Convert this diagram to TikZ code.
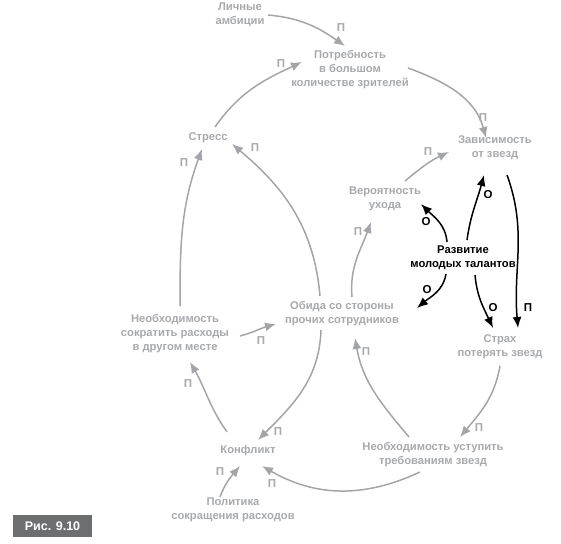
\documentclass[tikz,border=0pt]{standalone}
\usepackage{fontspec}
\setmainfont{Liberation Sans}
\usetikzlibrary{arrows.meta}
\definecolor{gtext}{HTML}{A7A9AC}
\definecolor{garrow}{HTML}{A3A5A8}
\definecolor{figbox}{HTML}{6D6E70}
\tikzset{
  lbl/.style={text=gtext, font=\bfseries\fontsize{11.2}{14}\selectfont, align=center, inner sep=1pt},
  blbl/.style={text=black, font=\bfseries\fontsize{11.2}{14}\selectfont, align=center, inner sep=1pt},
  garr/.style={draw=garrow, line width=1.5pt, -{Latex[length=11pt,width=9pt]}},
  barr/.style={draw=black, line width=1.5pt, -{Latex[length=11pt,width=9pt]}},
  pl/.style={text=gtext, font=\bfseries\fontsize{11.5}{12}\selectfont, inner sep=0pt},
  ol/.style={text=black, font=\bfseries\fontsize{11.5}{12}\selectfont, inner sep=0pt},
}
\begin{document}
\begin{tikzpicture}[x=1pt,y=-1pt]
\useasboundingbox (0,0) rectangle (561,543);
% nodes
\node[lbl] (lich) at (240,15) {Личные\\амбиции};
\node[lbl] (potr) at (350,70) {Потребность\\в большом\\количестве зрителей};
\node[lbl] (zav) at (495,148) {Зависимость\\от звезд};
\node[lbl] (stress) at (208,138) {Стресс};
\node[lbl] (ver) at (385,199) {Вероятность\\ухода};
\node[blbl] (razv) at (463,258) {Развитие\\молодых талантов};
\node[lbl] (obida) at (342,314) {Обида со стороны\\прочих сотрудников};
\node[lbl] (nsokr) at (175,334) {Необходимость\\сократить расходы\\в другом месте};
\node[lbl] (strah) at (500,347) {Страх\\потерять звезд};
\node[lbl] (konf) at (248,451) {Конфликт};
\node[lbl] (nust) at (433,455) {Необходимость уступить\\требованиям звезд};
\node[lbl] (polit) at (233,510) {Политика\\сокращения расходов};
\node[fill=figbox, text=white, font=\bfseries\fontsize{12.5}{13}\selectfont, minimum width=79pt, minimum height=22pt, inner sep=0pt] (fig) at (52.5,526) {Рис. 9.10};
% connectors (gray)
\draw[garr] ([shift={(28,0)}]lich.center) to[out=-5,in=145] ([shift={(-5,-24)}]potr.center);
\draw[garr] ([shift={(7,-11)}]stress.center) to[out=55,in=205] ([shift={(-48,-8)}]potr.center);
\draw[garr] ([shift={(58,-2)}]potr.center) to[out=-20,in=105] ([shift={(-9,-10)}]zav.center);
\draw[garr] ([shift={(20,-18)}]ver.center) to[out=40,in=205] ([shift={(-46,4)}]zav.center);
\draw[garr] ([shift={(10,-17)}]obida.center) to[out=95,in=250] ([shift={(-14,23)}]ver.center);
\draw[garr] ([shift={(-22,-18)}]obida.center) to[out=95,in=-40] ([shift={(24,6)}]stress.center);
\draw[garr] ([shift={(5,-28)}]nsokr.center) to[out=90,in=-110] ([shift={(-6,11)}]stress.center);
\draw[garr] ([shift={(65,2)}]nsokr.center) to[out=15,in=195] ([shift={(-66,10)}]obida.center);
\draw[garr] ([shift={(-21,-19)}]konf.center) to[out=125,in=-60] ([shift={(15,28)}]nsokr.center);
\draw[garr] ([shift={(-21,16)}]obida.center) to[out=-92,in=45] ([shift={(10,-11)}]konf.center);
\draw[garr] ([shift={(0,19)}]strah.center) to[out=-100,in=50] ([shift={(27,-18)}]nust.center);
\draw[garr] ([shift={(-24,-18)}]nust.center) to[out=130,in=-80] ([shift={(13,24)}]obida.center);
\draw[garr] ([shift={(-13,17)}]nust.center) to[out=-155,in=-30] ([shift={(14,15)}]konf.center);
\draw[garr] ([shift={(-13,-13)}]polit.center) to[out=70,in=230] ([shift={(-8,15)}]konf.center);
% connectors (black)
\draw[barr] ([shift={(-16,-16)}]razv.center) to[out=95,in=-45] ([shift={(36,5)}]ver.center);
\draw[barr] ([shift={(4,-18)}]razv.center) to[out=82,in=-105] ([shift={(-11,27)}]zav.center);
\draw[barr] ([shift={(12,27)}]zav.center) to[out=-70,in=95] ([shift={(18,-19)}]strah.center);
\draw[barr] ([shift={(12,17)}]razv.center) to[out=-85,in=115] ([shift={(-7,-19)}]strah.center);
\draw[barr] ([shift={(-17,16)}]razv.center) to[out=-100,in=40] ([shift={(75,-6)}]obida.center);
% polarity labels
\node[pl] (p1) at (341,28) {П};
\node[pl] (p2) at (281,64) {П};
\node[pl] (p3) at (483,118) {П};
\node[pl] (p4) at (428,152) {П};
\node[pl] (p5) at (358,232) {П};
\node[pl] (p6) at (255,148) {П};
\node[pl] (p7) at (184,163) {П};
\node[pl] (p8) at (261,341) {П};
\node[pl] (p9) at (188,384) {П};
\node[pl] (p10) at (278,432) {П};
\node[pl] (p11) at (479,428) {П};
\node[pl] (p12) at (366,352) {П};
\node[pl] (p13) at (272,484) {П};
\node[pl] (p14) at (220,472) {П};
\node[ol] (o1) at (426,222) {О};
\node[ol] (o2) at (488,195) {О};
\node[ol] (p15) at (528,308) {П};
\node[ol] (o3) at (493,308) {О};
\node[ol] (o4) at (427,290) {О};
\end{tikzpicture}
\end{document}
